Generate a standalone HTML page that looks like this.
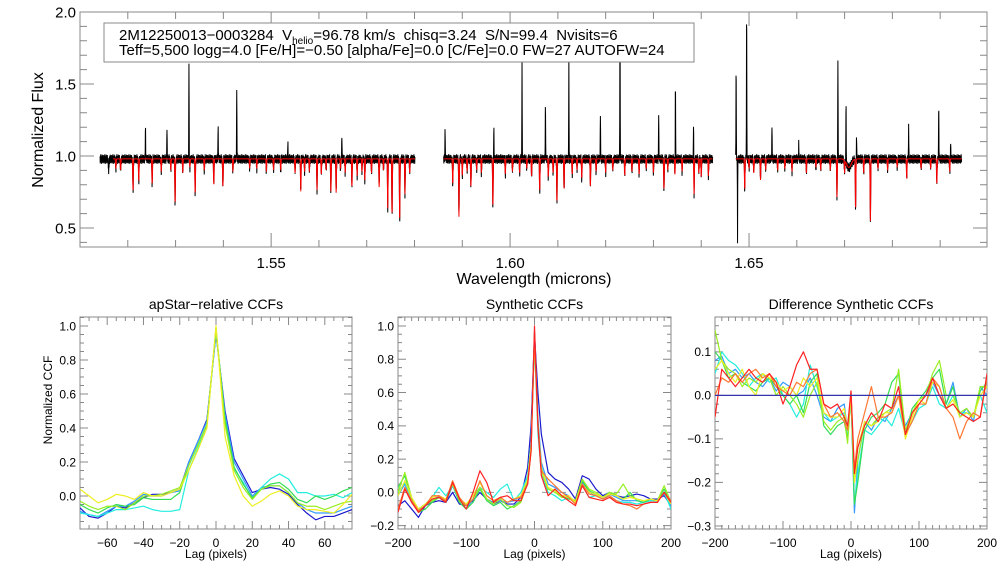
<!DOCTYPE html>
<html><head><meta charset="utf-8"><style>
html,body{margin:0;padding:0;background:#fff;}
svg{display:block;font-family:"Liberation Sans",sans-serif;}
</style></head><body>
<svg id="chart" width="1008" height="576" viewBox="0 0 1008 576" xmlns="http://www.w3.org/2000/svg">
<g id="top"></g>
<g id="p1"></g>
<g id="p2"></g>
<g id="p3"></g>
</svg>
<script>
// ---------- spectrum data ----------
const segments = [[1.5142,1.5801],[1.5861,1.6424],[1.6472,1.6945]];
const absWave = [1.5211,1.5223,1.5251,1.5299,1.5341,1.5380,1.5399,1.5562,1.5596,1.5625,1.5636,1.5669,1.5696,1.5726,1.5744,1.5753,1.5769,1.5780,1.5880,1.5893,1.5918,1.5964,1.6062,1.6098,1.6113,1.6168,1.6322,1.6385,1.6491,1.6524,1.6684,1.6723,1.6754,1.6830,1.6893];
const absFlux = [0.77,0.84,0.82,0.68,0.75,0.82,0.80,0.77,0.78,0.76,0.76,0.80,0.85,0.80,0.65,0.60,0.56,0.75,0.82,0.59,0.80,0.66,0.77,0.69,0.79,0.80,0.78,0.75,0.78,0.85,0.73,0.64,0.56,0.86,0.82];
const weakWave = [1.5160,1.5185,1.5270,1.5315,1.5360,1.5420,1.5455,1.5490,1.5520,1.5550,1.5580,1.5605,1.5655,1.5680,1.5710,1.5900,1.5940,1.5990,1.6020,1.6045,1.6080,1.6130,1.6150,1.6200,1.6240,1.6270,1.6300,1.6345,1.6400,1.6415,1.6510,1.6560,1.6590,1.6620,1.6650,1.6700,1.6740,1.6790,1.6860,1.6920,1.5175,1.5290,1.5330,1.5470,1.5505,1.5570,1.5615,1.5645,1.5690,1.5735,1.5790,1.5910,1.5930,1.6005,1.6035,1.6090,1.6140,1.6180,1.6215,1.6255,1.6285,1.6330,1.6360,1.6395,1.6500,1.6535,1.6575,1.6640,1.6670,1.6770,1.6810,1.6880];
const weakFlux = [0.90,0.92,0.91,0.90,0.92,0.91,0.93,0.91,0.92,0.90,0.91,0.89,0.90,0.88,0.90,0.88,0.90,0.89,0.90,0.88,0.87,0.89,0.86,0.90,0.88,0.89,0.90,0.89,0.87,0.88,0.90,0.92,0.91,0.90,0.92,0.91,0.90,0.92,0.93,0.91,0.93,0.92,0.94,0.93,0.92,0.91,0.92,0.93,0.91,0.92,0.90,0.91,0.92,0.91,0.93,0.90,0.92,0.91,0.92,0.91,0.93,0.92,0.91,0.90,0.93,0.92,0.93,0.94,0.92,0.93,0.94,0.93];
const skyWave = [1.5237,1.5282,1.5328,1.5389,1.5428,1.5535,1.5648,1.5864,1.5966,1.6025,1.6074,1.6123,1.6189,1.6230,1.6311,1.6346,1.6384,1.6473,1.6495,1.6548,1.6604,1.6686,1.6703,1.6725,1.6834,1.6897,1.6922];
const skyPeak = [1.21,1.21,1.65,1.23,1.49,1.09,1.15,1.20,1.20,1.65,1.38,1.65,1.31,2.05,1.29,1.55,1.30,1.63,2.05,1.23,1.09,1.68,1.41,1.13,1.20,1.36,1.09];
const badWave = [1.6476];
const badFlux = [0.41];
const jitter = [0.016,-0.032,0.024,-0.008,0.032,-0.024,0.0,0.019,-0.035,0.013,-0.016,0.029,-0.006,0.01,-0.029,0.022,-0.013,0.027,-0.02,0.005,-0.03];
const topYTicks = [0.5,1.0,1.5,2.0];
const topXTicks = [1.55,1.60,1.65];

// ---------- CCF data ----------
const lags1 = [-75,-70,-65,-60,-55,-50,-45,-40,-35,-30,-25,-20,-15,-10,-5,0,5,10,15,20,25,30,35,40,45,50,55,60,65,70,75];
const c1Blue = [-0.07,-0.12,-0.13,-0.1,-0.06,-0.07,-0.04,-0.01,0.01,0.01,0.02,0.04,0.2,0.32,0.45,0.95,0.5,0.22,0.12,0.02,0.04,0.05,0.04,0.01,-0.05,-0.1,-0.14,-0.12,-0.12,-0.1,-0.08];
const c1LBlue = [-0.09,-0.11,-0.12,-0.09,-0.06,-0.06,-0.03,0.01,0.0,0.0,0.02,0.03,0.2,0.32,0.44,0.96,0.48,0.2,0.1,0.0,0.05,0.06,0.06,0.02,-0.04,-0.08,-0.1,-0.1,-0.1,-0.08,-0.06];
const c1Cyan = [-0.1,-0.11,-0.12,-0.1,-0.08,-0.08,-0.07,-0.06,-0.08,-0.09,-0.09,-0.08,0.15,0.28,0.42,0.97,0.45,0.16,0.08,-0.02,0.05,0.1,0.13,0.1,0.02,0.02,0.0,0.0,0.01,-0.01,0.02];
const c1Green = [-0.05,-0.08,-0.1,-0.07,-0.05,-0.06,-0.05,-0.01,-0.02,-0.02,-0.02,0.02,0.18,0.3,0.42,0.98,0.45,0.17,0.07,-0.01,0.04,0.07,0.08,0.04,-0.02,-0.04,0.0,-0.02,0.0,0.03,0.05];
const c1Lime = [-0.03,-0.06,-0.08,-0.06,-0.06,-0.08,-0.04,0.0,0.0,0.01,0.03,0.05,0.18,0.3,0.42,0.99,0.42,0.15,0.05,-0.02,0.04,0.06,0.06,0.02,-0.04,-0.06,-0.06,-0.08,-0.06,-0.04,-0.03];
const c1Yellow = [0.04,0.0,-0.04,-0.02,0.01,0.0,-0.02,0.02,0.0,0.0,0.02,0.04,0.15,0.27,0.4,1.0,0.35,0.12,0.0,-0.06,-0.03,0.01,0.03,0.0,-0.06,-0.08,-0.08,-0.09,-0.1,-0.05,0.01];

const lags2 = [-200,-190,-180,-170,-160,-150,-140,-130,-120,-110,-100,-90,-80,-70,-60,-50,-40,-30,-20,-10,-5,0,5,10,20,30,40,50,60,70,80,90,100,110,120,130,140,150,160,170,180,190,200];
const c2Blue = [-0.08,-0.05,-0.1,-0.15,-0.08,-0.06,-0.05,-0.06,0.0,-0.07,-0.08,-0.05,0.0,-0.04,-0.07,-0.05,-0.07,-0.07,-0.03,0.15,0.4,0.95,0.6,0.35,0.12,0.08,0.06,0.02,-0.04,0.1,0.08,0.02,-0.02,0.0,-0.02,-0.03,-0.02,-0.01,-0.02,-0.04,-0.04,-0.02,-0.08];
const c2LBlue = [-0.02,0.05,-0.06,-0.1,-0.08,-0.05,-0.02,-0.06,0.04,-0.06,-0.1,-0.04,0.02,-0.04,-0.06,-0.05,-0.06,-0.05,-0.02,0.1,0.3,0.97,0.45,0.18,0.05,0.03,0.0,-0.02,-0.06,0.06,0.0,-0.02,-0.04,-0.01,-0.03,-0.05,-0.05,-0.05,-0.06,-0.05,-0.05,-0.01,-0.08];
const c2Cyan = [0.0,0.06,-0.04,-0.1,-0.07,-0.03,0.03,-0.02,0.04,-0.05,-0.08,-0.02,0.03,0.0,-0.03,0.02,0.05,-0.05,0.0,0.1,0.3,0.9,0.35,0.12,0.0,-0.02,-0.05,-0.03,-0.06,0.04,-0.03,-0.02,-0.04,-0.02,-0.05,-0.06,-0.06,-0.07,-0.06,-0.05,-0.05,0.0,-0.1];
const c2Green = [0.03,0.1,-0.04,-0.12,-0.1,-0.06,-0.03,-0.06,0.05,-0.06,-0.1,-0.06,0.02,-0.05,-0.08,-0.06,-0.1,-0.08,-0.05,0.08,0.28,0.92,0.42,0.15,0.02,0.0,-0.02,-0.04,-0.05,0.07,0.01,-0.01,-0.03,0.0,-0.02,-0.04,0.0,-0.05,-0.06,-0.04,-0.05,0.02,-0.07];
const c2Lime = [0.0,0.12,-0.03,-0.12,-0.08,-0.05,-0.03,-0.05,0.06,-0.05,-0.08,-0.04,0.03,-0.04,-0.07,-0.04,-0.08,-0.09,-0.06,0.06,0.25,0.93,0.4,0.13,0.02,0.0,-0.03,-0.03,-0.05,0.08,0.02,0.0,-0.03,0.0,-0.01,0.05,-0.02,-0.04,-0.05,-0.04,-0.05,0.04,-0.06];
const c2Yellow = [-0.02,0.07,-0.03,-0.1,-0.07,-0.03,-0.02,-0.04,0.05,-0.04,-0.07,-0.02,0.06,-0.02,-0.05,-0.03,-0.06,-0.04,-0.02,0.08,0.28,0.95,0.4,0.14,0.03,0.01,-0.02,-0.02,-0.06,0.05,0.0,-0.01,-0.03,-0.01,-0.02,-0.04,-0.03,-0.04,-0.05,-0.04,-0.05,0.0,-0.07];
const c2Orange = [-0.1,0.03,-0.05,-0.11,-0.08,-0.02,-0.02,-0.05,0.07,-0.03,-0.08,-0.04,0.07,-0.02,-0.05,-0.03,-0.06,-0.04,-0.03,0.05,0.25,0.93,0.4,0.13,0.08,0.04,0.0,-0.03,-0.07,0.05,-0.01,-0.02,-0.04,-0.02,-0.05,-0.07,-0.08,-0.1,-0.07,-0.06,-0.06,0.0,-0.05];
const c2Red = [-0.12,0.02,-0.06,-0.12,-0.08,-0.04,-0.03,-0.06,0.06,-0.04,-0.1,0.0,0.13,0.06,-0.06,-0.03,-0.02,-0.05,-0.05,0.05,0.25,1.0,0.4,0.1,-0.02,0.02,-0.02,-0.05,-0.08,0.04,-0.03,-0.04,-0.05,-0.03,-0.06,-0.07,-0.07,-0.08,-0.07,-0.06,-0.06,0.0,-0.06];

const d3LBlue = [0.08,0.09,0.05,0.06,0.04,0.05,0.03,0.02,0.04,0.01,0.03,0.02,0.0,0.01,0.04,0.0,-0.05,-0.06,-0.03,-0.02,-0.08,0.0,-0.27,-0.15,-0.06,-0.08,-0.05,-0.06,-0.03,0.0,-0.07,-0.04,-0.02,0.0,0.03,0.0,-0.02,0.03,-0.05,-0.03,-0.06,0.02,0.0];
const d3Cyan = [0.05,0.1,0.08,0.07,0.05,0.02,0.04,0.05,0.03,0.04,0.0,-0.02,-0.05,-0.02,0.07,0.02,-0.04,-0.06,-0.05,-0.04,-0.1,0.0,-0.25,-0.18,-0.08,-0.09,-0.07,-0.05,-0.07,-0.03,-0.09,-0.06,-0.03,-0.02,0.02,-0.02,-0.03,0.0,-0.04,-0.04,-0.05,0.0,-0.04];
const d3Green = [0.1,0.08,0.04,0.05,0.03,0.02,0.01,0.03,0.04,0.02,0.0,-0.02,0.0,-0.04,0.03,0.05,-0.07,-0.09,-0.07,-0.06,-0.1,0.0,-0.25,-0.2,-0.08,-0.05,-0.04,-0.02,0.03,0.05,-0.09,-0.03,-0.01,0.01,0.04,0.06,-0.02,0.02,-0.05,-0.04,-0.05,0.01,0.03];
const d3Lime = [0.15,0.08,0.06,0.05,0.02,0.04,0.03,0.05,0.04,0.0,0.02,0.0,-0.02,-0.05,0.0,0.03,-0.06,-0.08,-0.06,-0.05,-0.11,0.0,-0.2,-0.15,-0.06,-0.07,-0.05,-0.04,-0.03,0.06,-0.08,-0.04,-0.01,0.0,0.05,0.08,0.0,0.0,-0.04,-0.03,-0.05,0.02,0.02];
const d3Yellow = [0.06,0.08,0.05,0.03,0.06,0.02,0.0,0.05,0.04,0.03,0.01,0.02,0.0,0.04,0.02,0.04,-0.04,-0.05,-0.05,-0.03,-0.08,0.0,-0.2,-0.12,-0.06,-0.07,-0.06,-0.04,-0.04,0.0,-0.1,-0.05,-0.01,-0.02,0.03,0.02,-0.03,-0.01,-0.05,-0.04,-0.05,0.0,0.02];
const d3Orange = [0.0,0.04,0.03,0.05,0.03,0.05,0.06,0.04,0.05,0.02,0.01,0.0,0.03,0.02,0.05,0.06,-0.02,-0.05,-0.04,-0.06,-0.08,0.01,-0.17,-0.1,-0.04,0.02,-0.05,-0.05,-0.04,0.0,-0.09,-0.06,-0.02,-0.02,0.04,0.02,-0.03,-0.05,-0.1,-0.06,-0.04,-0.05,0.04];
const d3Red = [-0.05,0.06,0.04,0.02,0.04,0.06,0.04,0.03,0.05,0.03,-0.02,0.02,0.07,0.1,0.06,0.06,-0.02,-0.03,-0.02,-0.05,-0.07,0.01,-0.18,-0.12,-0.07,-0.04,-0.06,-0.02,-0.03,0.02,-0.09,-0.04,-0.02,0.0,0.04,0.0,-0.03,-0.02,-0.04,-0.05,-0.06,-0.05,0.05];

const NS = "http://www.w3.org/2000/svg";
function mk(parent, tag, attrs, text){
  const e = document.createElementNS(NS, tag);
  for (const k in attrs) e.setAttribute(k, attrs[k]);
  if (text !== undefined) e.textContent = text;
  parent.appendChild(e);
  return e;
}
function lin(d0,d1,r0,r1){ return v => r0 + (v-d0)/(d1-d0)*(r1-r0); }

function frame(g, L, T, R, B, xs, ys, xMaj, xMin, yMaj, yMin, xr, yr, tl, fs, xfmt, yfmt){
  const f = mk(g,'rect',{x:L,y:T,width:R-L,height:B-T,fill:'none',stroke:'#888','stroke-width':1});
  
  
  let p='';
  const eps=1e-9;
  for (let v=Math.ceil(xr[0]/xMin-eps)*xMin; v<=xr[1]+eps; v+=xMin){
    const isMaj = Math.abs(v/xMaj-Math.round(v/xMaj))<1e-6;
    const len = isMaj?tl:tl/2, x=xs(v);
    p+=`M${x},${B}v${-len}M${x},${T}v${len}`;
  }
  for (let v=Math.ceil(yr[0]/yMin-eps)*yMin; v<=yr[1]+eps; v+=yMin){
    const isMaj = Math.abs(v/yMaj-Math.round(v/yMaj))<1e-6;
    const len = isMaj?tl:tl/2, y=ys(v);
    p+=`M${L},${y}h${len}M${R},${y}h${-len}`;
  }
  const t = mk(g,'path',{d:p,stroke:'#888','stroke-width':1,fill:'none'});
  
  
  for (let v=Math.ceil(xr[0]/xMaj-eps)*xMaj; v<=xr[1]+eps; v+=xMaj){
    const lb = mk(g,'text',{x:xs(v),y:B+fs+6,'font-size':fs,'text-anchor':'middle',fill:'#000'}, xfmt(v));
    
    
  }
  for (let v=Math.ceil(yr[0]/yMaj-eps)*yMaj; v<=yr[1]+eps; v+=yMaj){
    const lb = mk(g,'text',{x:L-4,y:ys(v)+fs*0.36,'font-size':fs,'text-anchor':'end',fill:'#000'}, yfmt(v));
    
    
  }
}
function fmt(n){ return v => { let s=(Math.abs(v)<1e-9?0:v).toFixed(n); return s.replace('-','\u2212'); }; }

// ---------- top spectrum ----------
(function(){
  const g=document.getElementById('top');
  const L=80,R=987,T=12,B=247;
  const xs=lin(1.51,1.6998,L,R), ys=lin(2.0,0.368,T,B);
  frame(g,L,T,R,B,xs,ys,0.05,0.01,0.5,0.1,[1.51,1.6998],[0.368,2.0],14,15,v=>v.toFixed(2),v=>v.toFixed(1));
  const cp=mk(g,'clipPath',{id:'topclip'}); mk(cp,'rect',{x:L,y:T,width:R-L,height:B-T});
  const sig=0.00008;
  function model(l){
    let f=0.98;
    for(let i=0;i<absWave.length;i++){const d=(l-absWave[i])/sig; if(Math.abs(d)<5) f*=1-(1-absFlux[i])*Math.exp(-d*d);}
    for(let i=0;i<weakWave.length;i++){const d=(l-weakWave[i])/sig; if(Math.abs(d)<5) f*=1-(1-weakFlux[i])*Math.exp(-d*d);}
    const b=(l-1.6709)/0.0007; f*=1-0.06*Math.exp(-b*b);
    return f;
  }
  let pb='', pr='';
  segments.forEach((s,si)=>{
    let k=0, first=true, firstR=true;
    for(let l=s[0]; l<=s[1]; l+=0.00004){
      const m=model(l);
      let b=m+jitter[k%jitter.length]; k++;
      for(let i=0;i<skyWave.length;i++){const d=(l-skyWave[i])/0.00005; if(Math.abs(d)<3) b+= (skyPeak[i]-0.98)*Math.exp(-d*d);}
      for(let i=0;i<badWave.length;i++){const d=(l-badWave[i])/0.00004; if(Math.abs(d)<3) b-= (0.98-badFlux[i])*Math.exp(-d*d);}
      const x=xs(l).toFixed(2);
      pb+=(first?'M':'L')+x+','+ys(b).toFixed(2); first=false;
      if(!(si===0 && l<1.5169)){ pr+=(firstR?'M':'L')+x+','+ys(m).toFixed(2); firstR=false; }
    }
  });
  const bl=mk(g,'path',{d:pb,stroke:'#000','stroke-width':1,fill:'none','clip-path':'url(#topclip)'});
  
  
  const rl=mk(g,'path',{d:pr,stroke:'#f00','stroke-width':1,fill:'none','clip-path':'url(#topclip)'});
  
  
  const box=mk(g,'rect',{x:104,y:23,width:590,height:39,fill:'#fff',stroke:'#888'});
  
  
  const t1=mk(g,'text',{x:119,y:40,'font-size':15,fill:'#000'});
  
  
  t1.innerHTML='2M12250013\u22120003284  V<tspan font-size="10" dy="4">helio</tspan><tspan dy="-4">=96.78 km/s  chisq=3.24  S/N=99.4  Nvisits=6</tspan>';
  t1.setAttribute('xml:space','preserve'); t1.style.whiteSpace='pre';
  const t2=mk(g,'text',{x:119,y:55,'font-size':15,fill:'#000'},'Teff=5,500 logg=4.0 [Fe/H]=\u22120.50 [alpha/Fe]=0.0 [C/Fe]=0.0 FW=27 AUTOFW=24');
  
  
  const xl=mk(g,'text',{x:534,y:284,'font-size':16,'text-anchor':'middle',fill:'#000'},'Wavelength (microns)');
  
  
  const yl=mk(g,'text',{x:0,y:0,'font-size':16,'text-anchor':'middle',fill:'#000',transform:'translate(43,130) rotate(-90)'},'Normalized Flux');
  
  
})();

function ccfPanel(id, L, R, xr, yr, xMaj, xMin, yMaj, yMin, yfmt, title, lags, series, colors, zero, ylab){
  const g=document.getElementById(id);
  const T=317,B=529;
  const xs=lin(xr[0],xr[1],L,R), ys=lin(yr[1],yr[0],T,B);
  frame(g,L,T,R,B,xs,ys,xMaj,xMin,yMaj,yMin,xr,yr,8,12,v=>fmt(0)(v),yfmt);
  const cp=mk(g,'clipPath',{id:id+'clip'}); mk(cp,'rect',{x:L,y:T,width:R-L,height:B-T});
  if(zero==='dash'){
    const z=mk(g,'line',{x1:L,x2:R,y1:ys(0),y2:ys(0),stroke:'#999','stroke-dasharray':'6,12'});
    
    
  }
  series.forEach((s,i)=>{
    let d='';
    s.forEach((v,j)=>{ d+=(j?'L':'M')+xs(lags[j]).toFixed(2)+','+ys(v).toFixed(2); });
    const p=mk(g,'path',{d:d,stroke:colors[i],'stroke-width':1.2,fill:'none','stroke-linejoin':'round','clip-path':`url(#${id}clip)`});
    
    
  });
  if(zero==='solid'){
    const z=mk(g,'line',{x1:L,x2:R,y1:ys(0),y2:ys(0),stroke:'#3333aa','stroke-width':1.2});
    
    
  }
  const tt=mk(g,'text',{x:(L+R)/2,y:309,'font-size':14,'text-anchor':'middle',fill:'#000'},title);
  
  
  const xl=mk(g,'text',{x:(L+R)/2,y:558,'font-size':12,'text-anchor':'middle',fill:'#000'},'Lag (pixels)');
  
  
  if(ylab){
    const yl=mk(g,'text',{x:0,y:0,'font-size':12,'text-anchor':'middle',fill:'#000',transform:'translate(52,400) rotate(-90)'},ylab);
    
    
  }
}
const cBlue='#1a1acc', cLBlue='#3399ff', cCyan='#22eedd', cGreen='#33dd55', cLime='#99ee22', cYellow='#eeee22', cOrange='#ff7733', cRed='#ff2222';
ccfPanel('p1',80,352,[-75,75],[-0.194,1.053],20,5,0.2,0.05,fmt(1),'apStar\u2212relative CCFs',lags1,
  [c1Blue,c1LBlue,c1Cyan,c1Green,c1Lime,c1Yellow],[cBlue,cLBlue,cCyan,cGreen,cLime,cYellow],null,'Normalized CCF');
ccfPanel('p2',398,671,[-200,200],[-0.22,1.054],100,10,0.2,0.05,fmt(1),'Synthetic CCFs',lags2,
  [c2Blue,c2LBlue,c2Cyan,c2Green,c2Lime,c2Yellow,c2Orange,c2Red],[cBlue,cLBlue,cCyan,cGreen,cLime,cYellow,cOrange,cRed],'dash',null);
ccfPanel('p3',715,987,[-200,200],[-0.307,0.18],100,10,0.1,0.02,fmt(1),'Difference Synthetic CCFs',lags2,
  [d3LBlue,d3Cyan,d3Green,d3Lime,d3Yellow,d3Orange,d3Red],[cLBlue,cCyan,cGreen,cLime,cYellow,cOrange,cRed],'solid',null);
</script>
</body></html>
